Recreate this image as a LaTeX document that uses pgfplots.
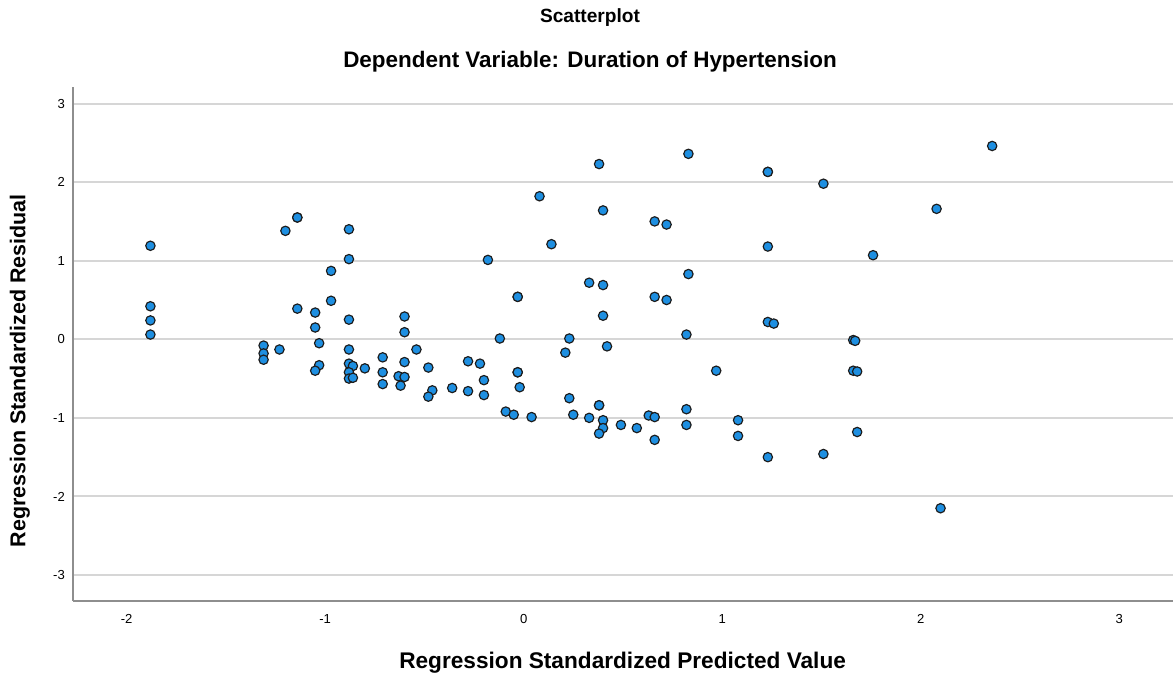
\documentclass[border=0pt]{standalone}
\usepackage{fontspec}
\setmainfont{Liberation Sans}
\usepackage{pgfplots}
\pgfplotsset{compat=1.18}
\definecolor{dot}{HTML}{1E8FE1}
\definecolor{dotedge}{HTML}{1C1C1C}
\definecolor{gridgray}{HTML}{D6D6D6}
\definecolor{framegray}{HTML}{8E8E8E}

% standardized predicted value vs standardized residual
\pgfplotstableread{
x y
-1.88 1.19
-1.88 0.42
-1.88 0.24
-1.88 0.06
-1.31 -0.08
-1.31 -0.18
-1.31 -0.26
-1.23 -0.13
-1.20 1.38
-1.14 1.55
-1.14 1.55
-1.14 0.39
-1.05 0.34
-1.05 0.15
-1.03 -0.05
-1.03 -0.33
-1.05 -0.40
-0.97 0.87
-0.97 0.49
-0.88 1.40
-0.88 1.02
-0.88 0.25
-0.88 -0.13
-0.88 -0.31
-0.86 -0.34
-0.88 -0.42
-0.88 -0.50
-0.86 -0.49
-0.80 -0.37
-0.71 -0.23
-0.71 -0.42
-0.71 -0.57
-0.60 0.29
-0.60 0.09
-0.60 -0.29
-0.54 -0.13
-0.63 -0.47
-0.60 -0.48
-0.62 -0.59
-0.48 -0.36
-0.46 -0.65
-0.48 -0.73
-0.36 -0.62
-0.28 -0.28
-0.28 -0.66
-0.22 -0.31
-0.20 -0.52
-0.20 -0.71
-0.18 1.01
-0.12 0.01
-0.03 0.54
-0.03 0.54
-0.03 -0.42
-0.03 -0.42
-0.02 -0.61
-0.09 -0.92
-0.05 -0.96
0.04 -0.99
0.08 1.82
0.14 1.21
0.21 -0.17
0.23 0.01
0.23 -0.75
0.25 -0.96
0.33 0.72
0.33 -1.00
0.38 2.23
0.40 1.64
0.40 0.69
0.40 0.30
0.42 -0.09
0.38 -0.84
0.38 -0.84
0.40 -1.03
0.40 -1.13
0.38 -1.20
0.49 -1.09
0.57 -1.13
0.63 -0.97
0.66 -0.99
0.66 -1.28
0.66 1.50
0.72 1.46
0.66 0.54
0.72 0.50
0.83 2.36
0.83 0.83
0.82 0.06
0.82 -0.89
0.82 -1.09
0.97 -0.40
1.08 -1.03
1.08 -1.23
1.23 2.13
1.23 2.13
1.23 1.18
1.23 0.22
1.26 0.20
1.23 -1.50
1.51 1.98
1.51 -1.46
1.66 -0.01
1.67 -0.02
1.66 -0.40
1.68 -0.41
1.68 -1.18
1.76 1.07
2.08 1.66
2.10 -2.15
2.36 2.46
}\resid

\begin{document}
\begin{tikzpicture}
\begin{axis}[scale only axis,width=563.5pt,height=263.3pt,
  xmin=-2.27,xmax=3.27,ymin=-3.33,ymax=3.21,
  axis x line=bottom,axis y line=left,
  axis line style={framegray,line width=1pt,-},
  xtick={-2,-1,0,1,2,3},xticklabels={-2,-1,0,1,2,3},
  ytick={-3,-2,-1,0,1,2,3},yticklabels={-3,-2,-1,0,1,2,3},
  major tick length=0pt,
  ymajorgrids,grid style={gridgray,line width=1pt},
  tick label style={font=\fontsize{6.7}{8}\selectfont,inner sep=0pt},
  xticklabel style={anchor=base,yshift=-11.6pt},
  yticklabel style={anchor=east,xshift=-4pt},
  clip=false]
\addplot[only marks,mark=*,mark size=2.4pt,mark options={fill=dot,draw=dotedge,line width=0.6pt}] table[x=x,y=y] {\resid};
\coordinate (sw) at (rel axis cs:0,0);
\end{axis}
\coordinate (tl) at ([shift={(-37.4pt,307.9pt)}]sw);
\node[font=\bfseries\fontsize{9.8}{11}\selectfont] at ([shift={(302.3pt,-9.2pt)}]tl) {Scatterplot};
\node[font=\bfseries\fontsize{11.5}{13}\selectfont] at ([shift={(302.3pt,-31.8pt)}]tl) {Dependent Variable: Duration of Hypertension};
\node[font=\bfseries\fontsize{11.6}{13}\selectfont] at ([shift={(319pt,-339.7pt)}]tl) {Regression Standardized Predicted Value};
\node[font=\bfseries\fontsize{11}{13}\selectfont,rotate=90] at ([shift={(10.2pt,-190pt)}]tl) {Regression Standardized Residual};
\pgfresetboundingbox
\path[use as bounding box] (tl) rectangle ++(601pt,-345.8pt);
\end{tikzpicture}
\end{document}
